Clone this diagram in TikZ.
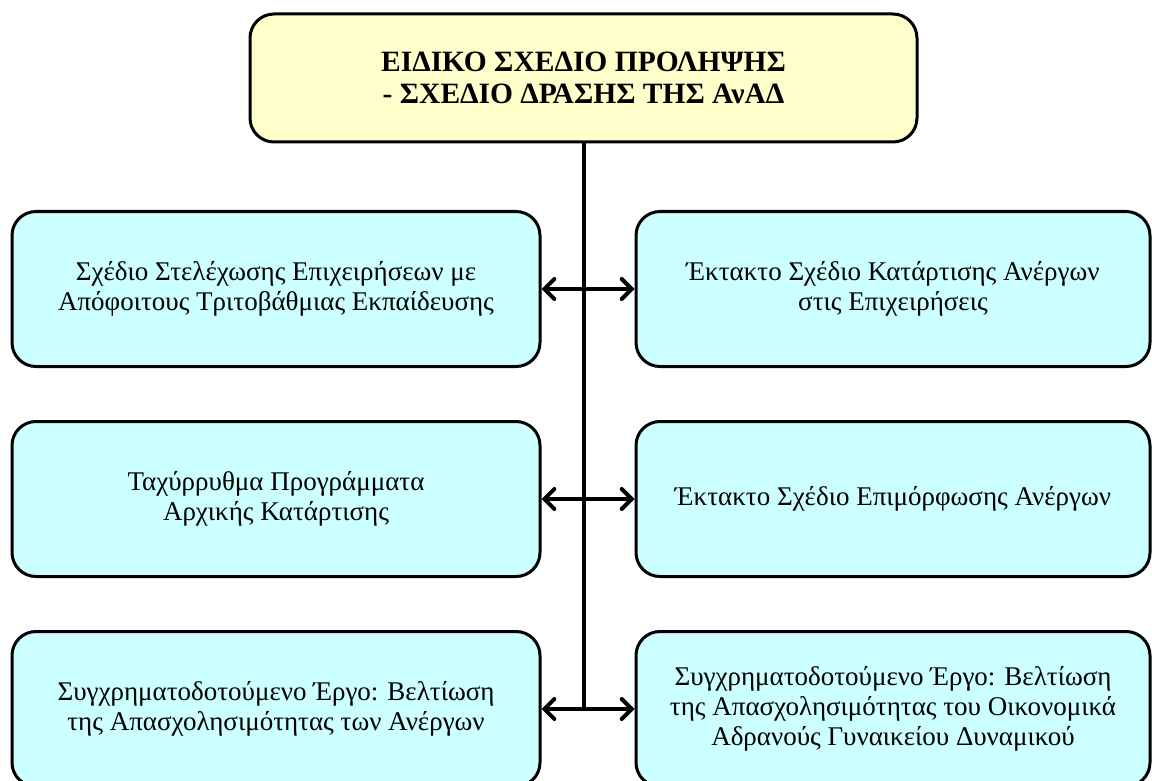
\documentclass[tikz,border=0pt]{standalone}
\usepackage{fontspec}
\setmainfont{Liberation Serif}
\usetikzlibrary{arrows.meta}

\definecolor{headfill}{HTML}{FFFFCC}
\definecolor{planfill}{HTML}{CCFFFF}

\begin{document}
\begin{tikzpicture}[
  x=1pt, y=-1pt,
  every node/.style={draw, line width=3pt, rounded corners=24pt, align=center, inner sep=0pt},
  headbox/.style={fill=headfill, minimum width=667pt, minimum height=128pt,
    font=\fontsize{29.5}{32}\selectfont\bfseries},
  leftbox/.style={fill=planfill, minimum width=528pt, minimum height=155pt,
    font=\fontsize{27}{30}\selectfont},
  rightbox/.style={fill=planfill, minimum width=514pt, minimum height=155pt,
    font=\fontsize{27}{30}\selectfont},
  trunk/.style={draw, line width=4pt},
  link/.style={draw, line width=4pt, {Straight Barb[length=10pt,width=20pt,line cap=round]}-{Straight Barb[length=10pt,width=20pt,line cap=round]}}
]
\useasboundingbox (0,0) rectangle (1152,781);
% Head
\node[headbox] (plan) at (583.5,78) {ΕΙΔΙΚΟ ΣΧΕΔΙΟ ΠΡΟΛΗΨΗΣ\\- ΣΧΕΔΙΟ ΔΡΑΣΗΣ ΤΗΣ ΑνΑΔ};
% Left column
\node[leftbox] (staff) at (276,289) {Σχέδιο Στελέχωσης Επιχειρήσεων με\\Απόφοιτους Τριτοβάθμιας Εκπαίδευσης};
\node[leftbox] (fast) at (276,499) {Ταχύρρυθμα Προγράμματα\\Αρχικής Κατάρτισης};
\node[leftbox] (jobless) at (276,709) {Συγχρηματοδοτούμενο Έργο: Βελτίωση\\της Απασχολησιμότητας των Ανέργων};
% Right column
\node[rightbox] (train) at (893,289) {Έκτακτο Σχέδιο Κατάρτισης Ανέργων\\στις Επιχειρήσεις};
\node[rightbox] (retrain) at (893,499) {Έκτακτο Σχέδιο Επιμόρφωσης Ανέργων};
\node[rightbox] (women) at (893,709) {Συγχρηματοδοτούμενο Έργο: Βελτίωση\\της Απασχολησιμότητας του Οικονομικά\\Αδρανούς Γυναικείου Δυναμικού};
% Connectors
\draw[trunk] (plan.south) -- (plan.south |- jobless.east);
\draw[link] (staff.east) -- (train.west);
\draw[link] (fast.east) -- (retrain.west);
\draw[link] (jobless.east) -- (women.west);
\end{tikzpicture}
\end{document}
